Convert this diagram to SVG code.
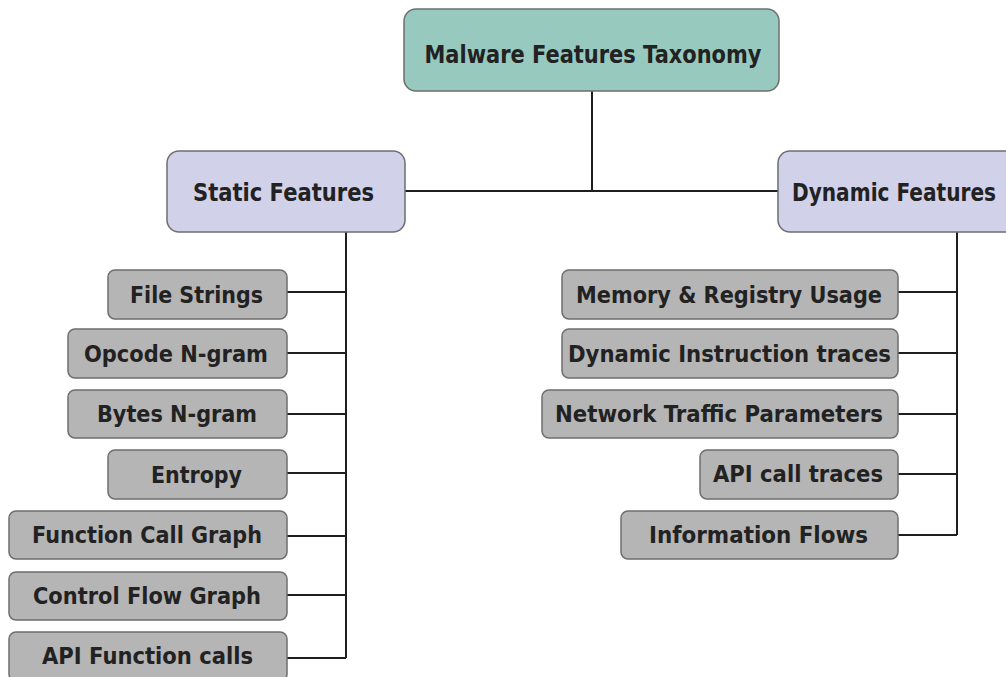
<svg xmlns="http://www.w3.org/2000/svg" width="1006" height="677" viewBox="0 0 1006 677">
<style>
.box{stroke:#6e6e6e;stroke-width:1.5}
.root{fill:#97c9bf}
.mid{fill:#d1d1e9}
.leaf{fill:#b5b5b5}
text{font-family:"DejaVu Sans","Liberation Sans",sans-serif;font-weight:bold;fill:#222;text-anchor:middle}
.t1{font-size:25px}
.t2{font-size:24px}
.t3{font-size:22.5px}
.conn{stroke:#1e1e1e;stroke-width:2;fill:none}
</style>
<rect width="1006" height="677" fill="#ffffff"/>
<g id="connectors" class="conn">
<path d="M592 91V191M405 191H779"/>
<path d="M346 232V658M287 292H346M287 353H346M287 414H346M287 473H346M287 536H346M287 595H346M287 658H346"/>
<path d="M957 232V535M898 292H957M898 353H957M898 414H957M898 474H957M898 535H957"/>
</g>
<g id="root"><rect class="box root" x="404" y="9" width="375" height="82" rx="12"/><text class="t1" x="593" y="63" textLength="337" lengthAdjust="spacingAndGlyphs">Malware Features Taxonomy</text></g>
<g id="static"><rect class="box mid" x="167" y="151" width="238" height="81" rx="12"/><text class="t2" x="283.5" y="201" textLength="181" lengthAdjust="spacingAndGlyphs">Static Features</text></g>
<g id="dynamic"><rect class="box mid" x="778" y="151" width="240" height="81" rx="12"/><text class="t2" x="894" y="201" textLength="204" lengthAdjust="spacingAndGlyphs">Dynamic Features</text></g>
<g id="file-strings"><rect class="box leaf" x="108" y="270" width="179" height="49" rx="7"/><text class="t3" x="196.5" y="303" textLength="133" lengthAdjust="spacingAndGlyphs">File Strings</text></g>
<g id="opcode"><rect class="box leaf" x="68" y="329" width="219" height="49" rx="7"/><text class="t3" x="176" y="362" textLength="184" lengthAdjust="spacingAndGlyphs">Opcode N-gram</text></g>
<g id="bytes"><rect class="box leaf" x="68" y="390" width="219" height="48" rx="7"/><text class="t3" x="177" y="422" textLength="160" lengthAdjust="spacingAndGlyphs">Bytes N-gram</text></g>
<g id="entropy"><rect class="box leaf" x="108" y="450" width="179" height="49" rx="7"/><text class="t3" x="196.5" y="483" textLength="91" lengthAdjust="spacingAndGlyphs">Entropy</text></g>
<g id="fcg"><rect class="box leaf" x="9" y="511" width="278" height="48" rx="7"/><text class="t3" x="147" y="543" textLength="230" lengthAdjust="spacingAndGlyphs">Function Call Graph</text></g>
<g id="cfg"><rect class="box leaf" x="9" y="572" width="278" height="48" rx="7"/><text class="t3" x="147" y="604" textLength="228" lengthAdjust="spacingAndGlyphs">Control Flow Graph</text></g>
<g id="api-function"><rect class="box leaf" x="9" y="632" width="278" height="49" rx="7"/><text class="t3" x="147.5" y="664" textLength="211" lengthAdjust="spacingAndGlyphs">API Function calls</text></g>
<g id="memory"><rect class="box leaf" x="562" y="270" width="336" height="49" rx="7"/><text class="t3" x="729" y="303" textLength="306" lengthAdjust="spacingAndGlyphs">Memory &amp; Registry Usage</text></g>
<g id="dyn-instr"><rect class="box leaf" x="562" y="329" width="336" height="49" rx="7"/><text class="t3" x="729.5" y="362" textLength="323" lengthAdjust="spacingAndGlyphs">Dynamic Instruction traces</text></g>
<g id="network"><rect class="box leaf" x="542" y="390" width="356" height="48" rx="7"/><text class="t3" x="719" y="422" textLength="328" lengthAdjust="spacingAndGlyphs">Network Traffic Parameters</text></g>
<g id="api-traces"><rect class="box leaf" x="700" y="450" width="198" height="49" rx="7"/><text class="t3" x="798" y="482" textLength="170" lengthAdjust="spacingAndGlyphs">API call traces</text></g>
<g id="info-flows"><rect class="box leaf" x="621" y="511" width="277" height="48" rx="7"/><text class="t3" x="758.5" y="543" textLength="219" lengthAdjust="spacingAndGlyphs">Information Flows</text></g>
</svg>
